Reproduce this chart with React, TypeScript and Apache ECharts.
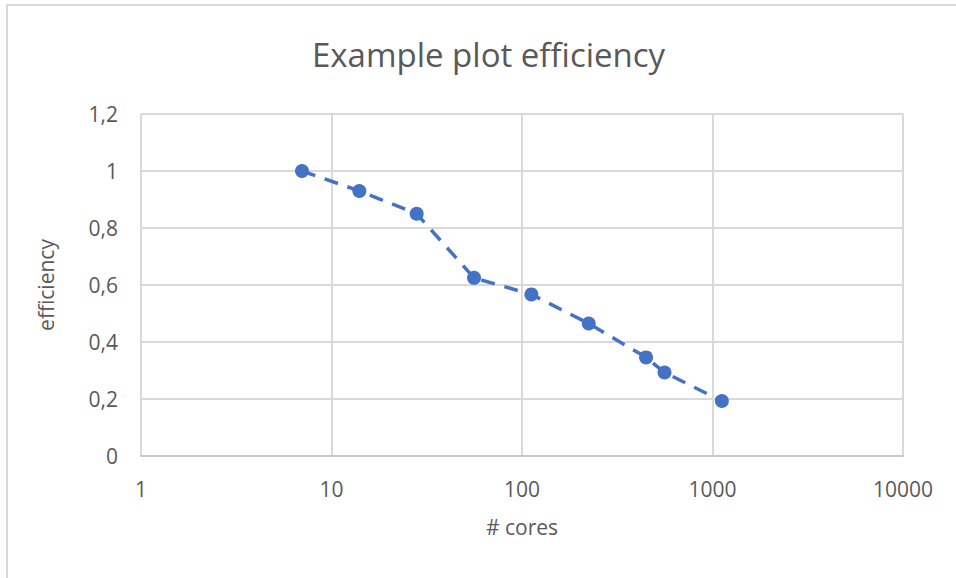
import React, { useEffect, useRef } from "react";
import * as echarts from "echarts";

const titleText = "Example plot efficiency";
const xAxisName = "# cores";
const yAxisName = "efficiency";
const cores = [7, 14, 28, 56, 112, 224, 448, 560, 1120];
const efficiency = [1.0, 0.93, 0.85, 0.625, 0.567, 0.465, 0.346, 0.293, 0.193];

const FONT = "'Open Sans', sans-serif";
const TEXT_COLOR = "#595959";
const GRID_COLOR = "#d9d9d9";
const SERIES_COLOR = "#4472C4";

export default function App() {
  const ref = useRef<HTMLDivElement>(null);

  useEffect(() => {
    if (!ref.current) return;
    const chart = echarts.init(ref.current, null, { renderer: "svg" });
    const data = cores.map((c, i) => [c, efficiency[i]]);
    chart.setOption({
      animation: false,
      backgroundColor: "#ffffff",
      title: {
        text: titleText,
        left: 312,
        top: 38,
        padding: 0,
        textStyle: {
          fontFamily: FONT,
          fontSize: 33,
          fontWeight: "normal",
          color: TEXT_COLOR,
        },
      },
      graphic: [
        {
          type: "rect",
          shape: { x: 7, y: 5, width: 1200, height: 1200 },
          style: { fill: "none", stroke: GRID_COLOR, lineWidth: 2 },
          silent: true,
        },
      ],
      grid: { left: 141, top: 114, width: 762, height: 342 },
      xAxis: {
        type: "log",
        logBase: 10,
        min: 1,
        max: 10000,
        name: xAxisName,
        nameLocation: "middle",
        nameGap: 71,
        nameTextStyle: {
          fontFamily: FONT,
          fontSize: 21,
          color: TEXT_COLOR,
          verticalAlign: "middle",
        },
        axisLine: { show: true, lineStyle: { color: "#c8c8c8", width: 2 } },
        axisTick: { show: false },
        axisLabel: {
          fontFamily: FONT,
          fontSize: 21,
          color: TEXT_COLOR,
          margin: 22,
          formatter: (v: number) => String(Math.round(v)),
        },
        splitLine: { show: true, lineStyle: { color: GRID_COLOR, width: 2 } },
        minorTick: { show: false },
        minorSplitLine: { show: false },
      },
      yAxis: {
        type: "value",
        min: 0,
        max: 1.2,
        interval: 0.2,
        name: yAxisName,
        nameLocation: "middle",
        nameGap: 95,
        nameRotate: 90,
        nameTextStyle: {
          fontFamily: FONT,
          fontSize: 21,
          color: TEXT_COLOR,
          verticalAlign: "middle",
        },
        axisLine: { show: false },
        axisTick: { show: false },
        axisLabel: {
          fontFamily: FONT,
          fontSize: 21,
          color: TEXT_COLOR,
          margin: 23,
          formatter: (v: number) =>
            String(Math.round(v * 10) / 10).replace(".", ","),
        },
        splitLine: { show: true, lineStyle: { color: GRID_COLOR, width: 2 } },
      },
      series: [
        {
          type: "line",
          data,
          symbol: "circle",
          symbolSize: 14,
          itemStyle: { color: SERIES_COLOR },
          lineStyle: { color: SERIES_COLOR, width: 3.5, type: [14, 10] },
          z: 3,
        },
      ],
    });
    return () => chart.dispose();
  }, []);

  return (
    <div
      ref={ref}
      style={{ position: "fixed", left: 0, top: 0, width: 956, height: 578 }}
    />
  );
}
